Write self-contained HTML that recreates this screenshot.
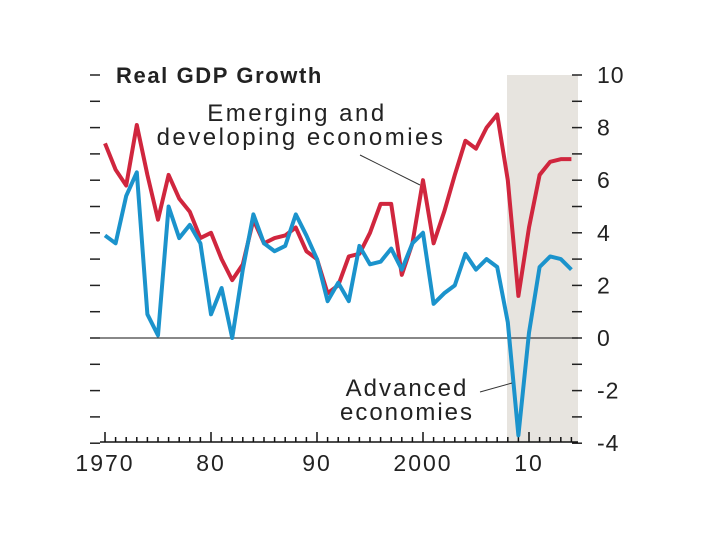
<!DOCTYPE html>
<html><head><meta charset="utf-8"><style>
body{margin:0;background:#fff;}
svg{display:block;font-family:"Liberation Sans",sans-serif;}
</style></head><body>
<svg id="c" width="720" height="540"></svg>
<script>
const years=[];for(let y=1970;y<=2014;y++)years.push(y);
const emerging=[7.4,6.4,5.8,8.1,6.2,4.5,6.2,5.3,4.8,3.8,4.0,3.0,2.2,2.8,4.5,3.6,3.8,3.9,4.2,3.3,3.0,1.7,2.0,3.1,3.2,4.0,5.1,5.1,2.4,3.6,6.0,3.6,4.8,6.2,7.5,7.2,8.0,8.5,6.0,1.6,4.2,6.2,6.7,6.8,6.8];
const advanced=[3.9,3.6,5.4,6.3,0.9,0.1,5.0,3.8,4.3,3.6,0.9,1.9,0.0,2.6,4.7,3.6,3.3,3.5,4.7,3.9,3.0,1.4,2.1,1.4,3.5,2.8,2.9,3.4,2.6,3.6,4.0,1.3,1.7,2.0,3.2,2.6,3.0,2.7,0.6,-3.7,0.2,2.7,3.1,3.0,2.6];
const yTicks=[10,8,6,4,2,0,-2,-4];
const xTickYears=[1970,1980,1990,2000,2010];
const xTickLabels=["1970","80","90","2000","10"];
const NS="http://www.w3.org/2000/svg";
const svg=document.getElementById('c');
const X=y=>105+(y-1970)*10.6;
const Y=v=>338-v*26.3;
function mk(t,a,p){const e=document.createElementNS(NS,t);for(const k in a)e.setAttribute(k,a[k]);(p||svg).appendChild(e);return e;}
const sh=mk('rect',{x:507,y:75,width:71,height:367,fill:'#e7e4df'});


for(let v=10;v>=-4;v--){
 const l=mk('line',{x1:90,x2:100,y1:Y(v),y2:Y(v),stroke:'#222','stroke-width':1.5});
 
 
 const r=mk('line',{x1:572,x2:582,y1:Y(v),y2:Y(v),stroke:'#222','stroke-width':1.5});
 
 
}
yTicks.forEach(v=>{const t=mk('text',{x:597,y:Y(v)+8,'font-size':23,fill:'#222','letter-spacing':1});t.textContent=(v<0?'-'+(-v):v);
 
 });
const z=mk('line',{x1:100,x2:578,y1:Y(0),y2:Y(0),stroke:'#111','stroke-width':1});


const ax=mk('line',{x1:100,x2:578,y1:442,y2:442,stroke:'#111','stroke-width':1.5});


years.forEach(y=>{const big=y%10==0;const t=mk('line',{x1:X(y),x2:X(y),y1:442,y2:big?432:437,stroke:'#111','stroke-width':1.5});
 
 });
xTickYears.forEach((y,i)=>{const t=mk('text',{x:X(y),y:471,'font-size':23,'text-anchor':'middle',fill:'#222','letter-spacing':2});t.textContent=xTickLabels[i];
 
 });
function line(d,c,n){const p=mk('polyline',{points:d.map((v,i)=>X(years[i])+','+Y(v)).join(' '),fill:'none',stroke:c,'stroke-width':4,'stroke-linejoin':'round'});
 
 }
line(emerging,'#d0263e','emerging-line');
line(advanced,'#1b93cc','advanced-line');
const l1=mk('line',{x1:360,y1:155,x2:420,y2:185,stroke:'#333','stroke-width':1});


const l2=mk('line',{x1:480,y1:392,x2:512,y2:383,stroke:'#333','stroke-width':1});


function txt(x,y,s,str,n,w,a,ls){const t=mk('text',{x:x,y:y,'font-size':s,fill:'#222','font-weight':w||'normal','text-anchor':a||'start','letter-spacing':ls});t.textContent=str;
 
 }
txt(116,83,22,'Real GDP Growth','chart-title','bold','start',1.6);
txt(297,121,24,'Emerging and','emerging-label-1',null,'middle',2.5);
txt(301,145,24,'developing economies','emerging-label-2',null,'middle',2.5);
txt(407,396,24,'Advanced','advanced-label-1',null,'middle',2);
txt(407,420,24,'economies','advanced-label-2',null,'middle',2);
</script>
</body></html>
